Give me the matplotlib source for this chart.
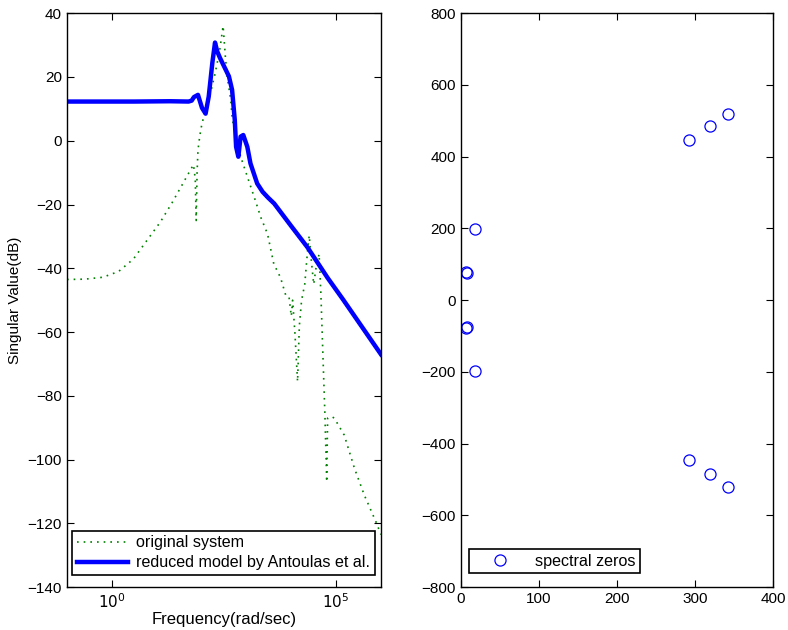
import numpy as np
import matplotlib.pyplot as plt
from matplotlib.ticker import NullLocator

plt.rcParams['font.family'] = ['Liberation Sans', 'DejaVu Sans']
plt.rcParams['font.size'] = 11

# singular value plot, log10(frequency) and dB values
orig_logw = [-1.0, -0.6, -0.2, 0.15, 0.48, 0.78, 1.08, 1.34, 1.56, 1.75, 1.82, 1.86, 1.88, 1.90,
             1.92, 1.96, 2.01, 2.10, 2.20, 2.30, 2.40, 2.48, 2.53, 2.57, 2.65, 2.68, 2.76, 2.91,
             3.06, 3.21, 3.32, 3.47, 3.61, 3.76, 3.88, 3.95, 4.00, 4.03, 4.08, 4.14, 4.18, 4.23,
             4.30, 4.36, 4.40, 4.45, 4.50, 4.55, 4.62, 4.66, 4.70, 4.75, 4.79, 4.81, 4.90,
             4.96, 5.18, 5.41, 5.63, 5.89, 6.0]
orig_db = [-43.5, -43.4, -42.8, -41.0, -37.1, -31.3, -25.5, -19.5, -14.0, -9.2, -7.5, -12.0, -25.0, -10.0,
           -3.0, 1.5, 5.5, 10.0, 15.0, 21.0, 28.0, 36.0, 26.5, 20.2, 12.9, 7.6, 0.3, -6.6,
           -12.9, -19.2, -24.0, -29.2, -38.6, -42.9, -48.6, -49.0, -55.0, -50.0, -60.0, -75.5, -58.0, -50.0,
           -45.0, -35.0, -29.7, -38.0, -45.0, -40.0, -35.5, -48.0, -65.0, -86.0, -107.0, -87.0, -86.5,
           -87.0, -92.3, -102.8, -111.2, -119.6, -123.5]

red_logw = [-1.0, 0.5, 1.30, 1.71, 1.78, 1.83, 1.92, 2.01, 2.09, 2.16, 2.24, 2.30, 2.35, 2.41,
            2.50, 2.61, 2.68, 2.74, 2.77, 2.82, 2.87, 2.93, 3.02, 3.09, 3.24, 3.36, 3.48, 3.62,
            3.99, 4.36, 4.81, 5.15, 6.0]
red_db = [12.3, 12.3, 12.4, 12.3, 12.6, 13.7, 14.4, 10.3, 8.5, 13.9, 24.4, 30.8, 28.0, 26.0,
          23.4, 20.2, 16.0, 6.6, -1.9, -5.0, 1.3, 1.8, -1.9, -7.1, -13.4, -16.0, -17.8, -19.7,
          -26.6, -33.4, -43.0, -49.7, -67.0]

# spectral zeros (real part, imaginary part)
zeros_re = [293, 319, 342, 293, 319, 342, 18.5, 18.5, 6.5, 8.0, 6.5, 8.0]
zeros_im = [446, 485, 520, -446, -485, -520, 198, -198, 78, 75, -78, -75]

fig = plt.figure(figsize=(7.88, 6.3), dpi=100)

ax = fig.add_axes([0.085, 0.068, 0.3985, 0.911])
ax.semilogx(10 ** np.array(orig_logw), orig_db, color=(0, 0.5, 0),
            linestyle=(0, (1, 3)), lw=1.2, label='original system')
ax.semilogx(10 ** np.array(red_logw), red_db, color='#0000ff', lw=3.2,
            solid_joinstyle='round', label='reduced model by Antoulas et al.')
ax.set_xlim(1e-1, 1e6)
ax.set_ylim(-140, 40)
ax.set_xticks([1, 1e5])
ax.set_xticklabels([r'$10^0$', r'$10^5$'])
ax.xaxis.set_minor_locator(NullLocator())
ax.set_yticks(np.arange(-140, 41, 20))
ax.set_xlabel('Frequency(rad/sec)', fontsize=12, labelpad=1)
ax.set_ylabel('Singular Value(dB)')
ax.tick_params(direction='in', top=True, right=True, length=5)
leg = ax.legend(loc='lower right', bbox_to_anchor=(0.981, 0.021), borderaxespad=0,
                handlelength=3.2, handletextpad=0.5, fontsize=11.6,
                fancybox=False, framealpha=1, edgecolor='black',
                borderpad=0.3, labelspacing=0.3)
leg.get_frame().set_linewidth(1.2)

bx = fig.add_axes([0.5845, 0.068, 0.3965, 0.911])
bx.plot(zeros_re, zeros_im, 'o', mfc='none', mec='#0000ff', ms=8, mew=0.9,
        linestyle='none', label='spectral zeros')
bx.set_xlim(0, 400)
bx.set_ylim(-800, 800)
bx.set_xticks(np.arange(0, 401, 100))
bx.set_yticks(np.arange(-800, 801, 200))
bx.tick_params(direction='in', top=True, right=True, length=5)
leg2 = bx.legend(loc='lower left', bbox_to_anchor=(0.026, 0.024), borderaxespad=0,
                 handlelength=3.3, handletextpad=0.5, fontsize=11.6,
                 fancybox=False, framealpha=1, edgecolor='black', borderpad=0.3)
leg2.get_frame().set_linewidth(1.2)

for a in (ax, bx):
    for s in a.spines.values():
        s.set_linewidth(1.0)

fig.savefig('out.png', dpi=100)
